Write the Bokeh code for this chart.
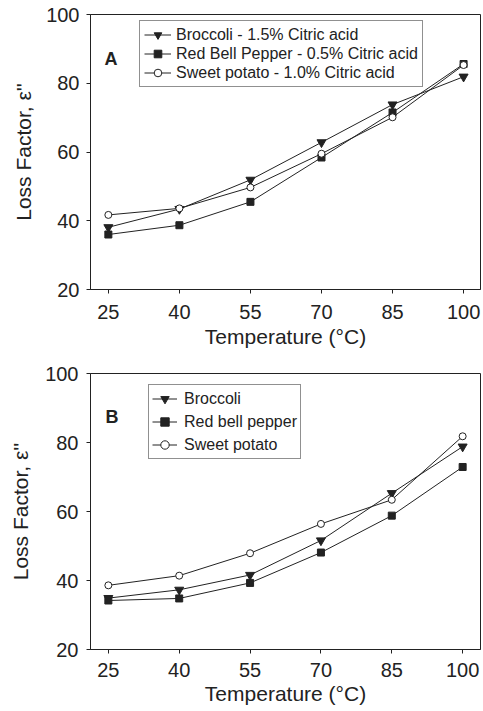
from bokeh.plotting import figure
from bokeh.layouts import column
from bokeh.models import Legend, LegendItem, Label, Range1d
from bokeh.embed import file_html
from bokeh.resources import INLINE

# ---- data ----
temps = [25, 40, 55, 70, 85, 100]
y_ticks = [20, 40, 60, 80, 100]

a_broccoli = [38.1, 43.4, 51.9, 62.8, 73.8, 81.9]
a_pepper = [36.0, 38.7, 45.5, 58.4, 71.5, 85.6]
a_potato = [41.7, 43.6, 49.7, 59.5, 70.1, 85.3]

b_broccoli = [34.9, 37.3, 41.6, 51.6, 65.3, 78.8]
b_pepper = [34.2, 34.8, 39.3, 48.1, 58.8, 72.9]
b_potato = [38.6, 41.4, 47.9, 56.4, 63.4, 81.8]

a_labels = ["Broccoli - 1.5% Citric acid",
            "Red Bell Pepper - 0.5% Citric acid",
            "Sweet potato - 1.0% Citric acid"]
b_labels = ["Broccoli", "Red bell pepper", "Sweet potato"]
x_title = "Temperature (\u00b0C)"
y_title = "Loss Factor, \u03b5''"

FONT = "Liberation Sans"
INK = "#222222"


def make_panel(series, labels, letter, width, height, mb_left, mb_right,
               mb_top, mb_bottom, x_start, x_end, y_lab_standoff,
               y_tick_standoff, x_tick_standoff, x_lab_standoff,
               legend_loc, legend_pad, legend_h, legend_spacing, glyph_w,
               label_standoff, letter_xy):
    p = figure(width=width, height=height, output_backend="svg",
               toolbar_location=None, min_border_left=mb_left,
               min_border_right=mb_right, min_border_top=mb_top,
               min_border_bottom=mb_bottom,
               x_range=Range1d(x_start, x_end), y_range=Range1d(20, 100))
    p.grid.visible = False
    p.outline_line_color = INK
    p.outline_line_width = 1
    p.background_fill_color = "white"
    p.border_fill_color = "white"

    for ax in (p.xaxis[0], p.yaxis[0]):
        ax.axis_line_color = INK
        ax.major_tick_line_color = INK
        ax.major_tick_out = 4
        ax.major_tick_in = 0
        ax.minor_tick_line_color = None
        ax.major_label_text_font = FONT
        ax.major_label_text_font_size = "20px"
        ax.major_label_text_color = INK
        ax.axis_label_text_font = FONT
        ax.axis_label_text_font_size = "21px"
        ax.axis_label_text_font_style = "normal"
        ax.axis_label_text_color = INK

    p.xaxis.ticker = temps
    p.yaxis.ticker = y_ticks
    p.xaxis.axis_label = x_title
    p.yaxis.axis_label = y_title
    p.xaxis.major_label_standoff = x_tick_standoff
    p.xaxis.axis_label_standoff = x_lab_standoff
    p.yaxis.major_label_standoff = y_tick_standoff
    p.yaxis.axis_label_standoff = y_lab_standoff

    brocc, pepper, potato = series
    items = []
    l1 = p.line(temps, brocc, line_color=INK, line_width=1)
    s1 = p.scatter(temps, brocc, marker="inverted_triangle", size=9,
                   fill_color=INK, line_color=INK)
    items.append(LegendItem(label=labels[0], renderers=[l1, s1]))
    l2 = p.line(temps, pepper, line_color=INK, line_width=1)
    s2 = p.scatter(temps, pepper, marker="square", size=7,
                   fill_color=INK, line_color=INK)
    items.append(LegendItem(label=labels[1], renderers=[l2, s2]))
    l3 = p.line(temps, potato, line_color=INK, line_width=1)
    s3 = p.scatter(temps, potato, marker="circle", size=7,
                   fill_color="white", line_color=INK, line_width=1)
    items.append(LegendItem(label=labels[2], renderers=[l3, s3]))

    legend = Legend(items=items, location=legend_loc, padding=legend_pad,
                    spacing=legend_spacing, margin=0,
                    label_height=legend_h, glyph_height=legend_h,
                    glyph_width=glyph_w, label_standoff=label_standoff,
                    label_text_font=FONT, label_text_font_size="16px",
                    label_text_color=INK, border_line_color=INK,
                    border_line_width=1.5, background_fill_color="white",
                    background_fill_alpha=1)
    p.add_layout(legend, "center")

    p.add_layout(Label(x=letter_xy[0], y=letter_xy[1], text=letter,
                       text_font=FONT, text_font_size="18px",
                       text_font_style="bold", text_color=INK,
                       text_baseline="alphabetic", text_align="left"))
    return p


pa = make_panel((a_broccoli, a_pepper, a_potato), a_labels, "A",
                width=483, height=354, mb_left=90, mb_right=0, mb_top=14,
                mb_bottom=65, x_start=21.23, x_end=103.57,
                y_lab_standoff=8, y_tick_standoff=7,
                x_tick_standoff=11, x_lab_standoff=3,
                legend_loc=(49, 202), legend_pad=4, legend_h=19,
                legend_spacing=0, glyph_w=27, label_standoff=5,
                letter_xy=(24.2, 87.2))

pb = make_panel((b_broccoli, b_pepper, b_potato), b_labels, "B",
                width=483, height=357, mb_left=87, mb_right=3, mb_top=19,
                mb_bottom=62, x_start=21.22, x_end=103.78,
                y_lab_standoff=10, y_tick_standoff=8,
                x_tick_standoff=9, x_lab_standoff=2,
                legend_loc=(58, 190), legend_pad=3, legend_h=21,
                legend_spacing=2, glyph_w=25, label_standoff=7,
                letter_xy=(24.4, 87.25))

layout = column(pa, pb, spacing=0)
open("out.html", "w").write(file_html(layout, INLINE))
